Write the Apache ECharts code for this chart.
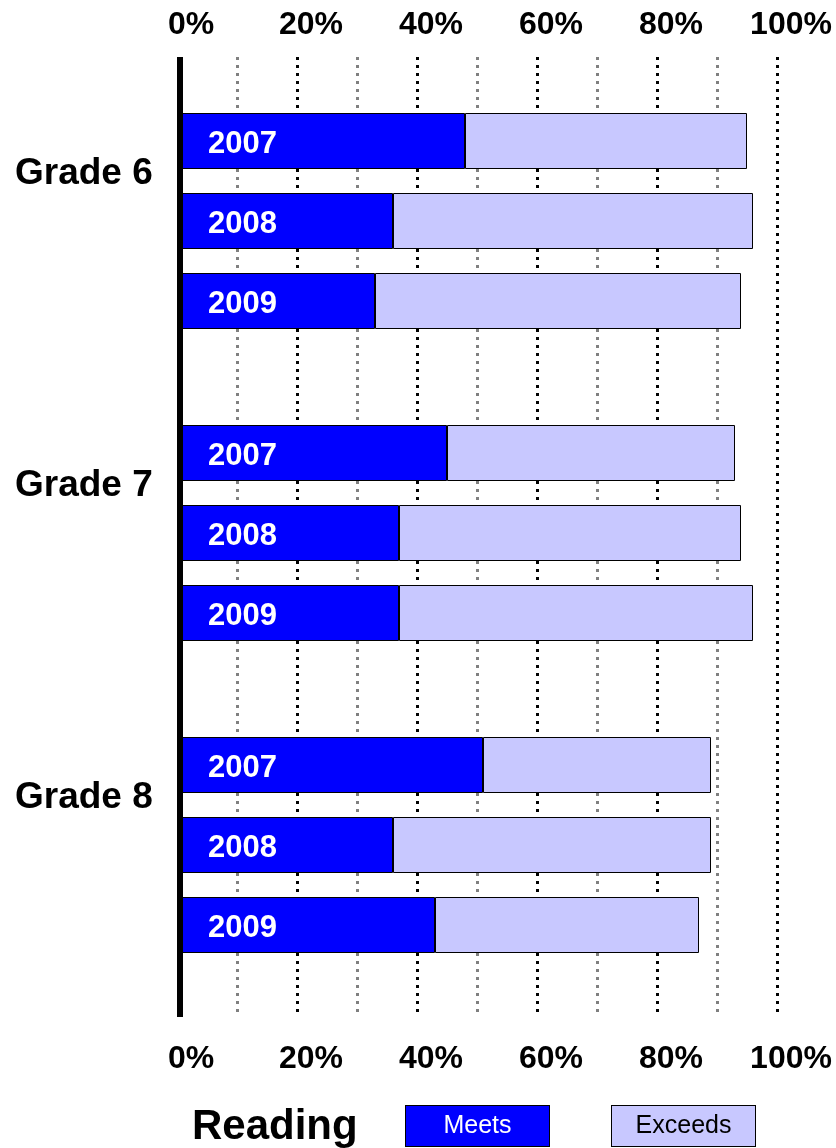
<!DOCTYPE html>
<html>
<head>
<meta charset="utf-8">
<script src="https://cdn.jsdelivr.net/npm/echarts@6.0.0/dist/echarts.min.js"></script>
<style>
  html, body { margin: 0; padding: 0; background: #fff; }
  #chart { width: 836px; height: 1148px; }
</style>
</head>
<body>
<div id="chart"></div>
<script>
// data
const grades = ['Grade 6', 'Grade 7', 'Grade 8'];
const years = ['2007', '2008', '2009'];
const meets = [
  [48, 36, 33],
  [45, 37, 37],
  [51, 36, 43]
];
const exceeds = [
  [47, 60, 61],
  [48, 57, 59],
  [38, 53, 44]
];
const pctMin = 0;
const pctMax = 100;
const pctStep = 20;
const seriesNames = ['Meets', 'Exceeds'];
const legendTitle = 'Reading';

const FONT = '"Liberation Sans", Arial, Helvetica, sans-serif';
const LEFT = 177;
const RIGHT = 59;
const groupTops = [101, 413, 725]; // one small grid per grade
const gradeLabelY = [174, 486, 798];

const pctLabel = {
  formatter: '{value}%',
  fontSize: 32,
  fontWeight: 'bold',
  color: '#000',
  fontFamily: FONT,
  padding: [0, 0, 0, 28]
};

const xAxes = [
  {
    gridIndex: 0,
    type: 'value',
    position: 'top',
    min: pctMin,
    max: pctMax,
    interval: pctStep,
    axisLine: { show: false },
    axisTick: { show: false },
    axisLabel: Object.assign({ margin: 16 }, pctLabel),
    splitLine: {
      show: true,
      showMinLine: false,
      lineStyle: { color: '#000', width: 3, type: [3, 5] }
    },
    minorTick: { show: false, splitNumber: 2 },
    minorSplitLine: {
      show: true,
      lineStyle: { color: '#808080', width: 3, type: [3, 5] }
    }
  },
  {
    gridIndex: 0,
    type: 'value',
    position: 'bottom',
    min: pctMin,
    max: pctMax,
    interval: pctStep,
    axisLine: { show: false },
    axisTick: { show: false },
    axisLabel: Object.assign({ margin: 26 }, pctLabel),
    splitLine: { show: false }
  }
];
const yAxes = [
  {
    gridIndex: 0,
    type: 'value',
    min: 0,
    max: 1,
    z: 10,
    offset: -3,
    axisLine: { show: true, lineStyle: { color: '#000', width: 6, cap: 'butt' } },
    axisTick: { show: false },
    axisLabel: { show: false },
    splitLine: { show: false }
  }
];
const series = [];

grades.forEach((g, i) => {
  xAxes.push({ gridIndex: i + 1, type: 'value', min: pctMin, max: pctMax, show: false });
  yAxes.push({ gridIndex: i + 1, type: 'category', data: years, inverse: true, show: false });
  series.push({
    name: seriesNames[0],
    type: 'bar',
    stack: 'g' + i,
    xAxisIndex: i + 2,
    yAxisIndex: i + 1,
    barWidth: 56,
    data: meets[i],
    itemStyle: { color: '#0000ff', borderColor: '#000', borderWidth: 1 },
    label: {
      show: true,
      position: [31, '50%'],
      offset: [0, 3],
      align: 'left',
      verticalAlign: 'middle',
      formatter: '{b}',
      color: '#fff',
      fontSize: 31,
      fontWeight: 'bold',
      fontFamily: FONT
    },
    emphasis: { disabled: true }
  });
  series.push({
    name: seriesNames[1],
    type: 'bar',
    stack: 'g' + i,
    xAxisIndex: i + 2,
    yAxisIndex: i + 1,
    barWidth: 56,
    data: exceeds[i],
    itemStyle: { color: '#c8c8ff', borderColor: '#000', borderWidth: 1 },
    emphasis: { disabled: true }
  });
});

const option = {
  animation: false,
  backgroundColor: '#fff',
  grid: [{ left: LEFT, right: RIGHT, top: 57, bottom: 131 }].concat(
    groupTops.map(t => ({ left: LEFT, right: RIGHT, top: t, height: 240 }))
  ),
  xAxis: xAxes,
  yAxis: yAxes,
  title: {
    text: legendTitle,
    left: 192,
    top: 1106,
    padding: 0,
    textStyle: { fontSize: 42, fontWeight: 'bold', fontFamily: FONT, color: '#000' }
  },
  legend: {
    left: 400,
    top: 1105,
    padding: 0,
    itemGap: 56,
    itemWidth: 0,
    itemHeight: 0,
    icon: 'rect',
    selectedMode: false,
    data: seriesNames,
    formatter: n => (n === seriesNames[0] ? '{m|' + n + '}' : '{e|' + n + '}'),
    textStyle: {
      rich: {
        m: {
          width: 143, height: 40, lineHeight: 40, align: 'center',
          backgroundColor: '#0000ff', borderColor: '#000', borderWidth: 1,
          color: '#fff', fontSize: 25, fontFamily: FONT
        },
        e: {
          width: 143, height: 40, lineHeight: 40, align: 'center',
          backgroundColor: '#c8c8ff', borderColor: '#000', borderWidth: 1,
          color: '#000', fontSize: 25, fontFamily: FONT
        }
      }
    }
  },
  graphic: grades.map((g, i) => ({
    type: 'text',
    x: 15,
    y: gradeLabelY[i],
    style: {
      text: g,
      fontSize: 37,
      fontWeight: 'bold',
      fontFamily: FONT,
      fill: '#000',
      verticalAlign: 'middle'
    }
  })),
  series: series
};

const chart = echarts.init(document.getElementById('chart'));
chart.setOption(option);
</script>
</body>
</html>
